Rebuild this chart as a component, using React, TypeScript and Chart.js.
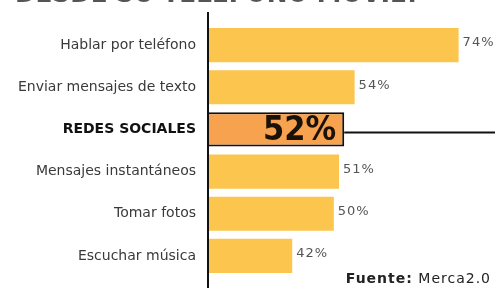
import React, { useEffect, useRef } from "react";
import { Chart, registerables } from "chart.js";
Chart.register(...registerables);

const categories = [
  "Hablar por teléfono",
  "Enviar mensajes de texto",
  "REDES SOCIALES",
  "Mensajes instantáneos",
  "Tomar fotos",
  "Escuchar música",
];
const values = [74, 54, 52, 51, 50, 42];
const highlightIndex = 2;
const titleText = "DESDE SU TELÉFONO MÓVIL?";
const sourceBold = "Fuente:";
const sourceText = " Merca2.0";

const YELLOW = "#FCC54E";
const ORANGE = "#F7A24E";
const FONT = "'DejaVu Sans', sans-serif";
const CFONT = "'DejaVu Sans Condensed', 'DejaVu Sans', sans-serif";

const overlay = {
  id: "overlay",
  afterDatasetsDraw(chart: any) {
    const ctx = chart.ctx;
    const meta = chart.getDatasetMeta(0);
    const area = chart.chartArea;
    ctx.save();
    // axis line
    ctx.strokeStyle = "#111";
    ctx.lineWidth = 2;
    ctx.beginPath();
    ctx.moveTo(area.left, 12);
    ctx.lineTo(area.left, chart.height);
    ctx.stroke();
    meta.data.forEach((bar: any, i: number) => {
      const v = values[i];
      if (i === highlightIndex) {
        ctx.strokeStyle = "#111";
        ctx.lineWidth = 2;
        ctx.beginPath();
        ctx.moveTo(bar.x, bar.y + 3);
        ctx.lineTo(chart.width, bar.y + 3);
        ctx.stroke();
        ctx.fillStyle = "#1a1208";
        ctx.font = `bold 34px ${CFONT}`;
        (ctx as any).letterSpacing = "0px";
        ctx.textAlign = "right";
        ctx.textBaseline = "middle";
        ctx.fillText(v + "%", bar.x - 8, bar.y + 2);
      } else {
        ctx.fillStyle = "#555";
        ctx.font = `13px ${FONT}`;
        (ctx as any).letterSpacing = "1px";
        ctx.textAlign = "left";
        ctx.textBaseline = "middle";
        ctx.fillText(v + "%", bar.x + 4, bar.y - 2);
      }
    });
    // partially visible title (cut off at the top edge)
    (ctx as any).letterSpacing = "0px";
    ctx.fillStyle = "#555";
    ctx.font = `bold 26px ${CFONT}`;
    ctx.textAlign = "left";
    ctx.textBaseline = "alphabetic";
    const w = ctx.measureText(titleText).width;
    ctx.save();
    ctx.translate(15, 2);
    ctx.scale(405 / w, 1);
    ctx.fillText(titleText, 0, 0);
    ctx.restore();
    // source
    (ctx as any).letterSpacing = "1px";
    ctx.fillStyle = "#222";
    ctx.font = `bold 14px ${FONT}`;
    const bw = ctx.measureText(sourceBold).width;
    ctx.font = `14px ${FONT}`;
    const nw = ctx.measureText(sourceText).width;
    const x0 = 491 - bw - nw;
    ctx.font = `bold 14px ${FONT}`;
    ctx.fillText(sourceBold, x0, 283);
    ctx.font = `14px ${FONT}`;
    ctx.fillText(sourceText, x0 + bw, 283);
    ctx.restore();
  },
};

export default function App() {
  const ref = useRef<HTMLCanvasElement>(null);
  useEffect(() => {
    const chart = new Chart(ref.current!, {
      type: "bar",
      data: {
        labels: categories,
        datasets: [
          {
            data: values,
            backgroundColor: values.map((_, i) => (i === highlightIndex ? ORANGE : YELLOW)),
            borderColor: values.map((_, i) => (i === highlightIndex ? "#111" : "rgba(0,0,0,0)")),
            borderWidth: values.map((_, i) => (i === highlightIndex ? 2 : 0)),
            borderSkipped: false,
            barPercentage: 0.81,
            categoryPercentage: 1,
          },
        ],
      },
      options: {
        indexAxis: "y",
        animation: false,
        responsive: false,
        layout: { padding: { top: 24, bottom: 11, left: 0, right: 0 } },
        plugins: { legend: { display: false }, tooltip: { enabled: false }, title: { display: false } },
        scales: {
          x: { display: false, min: 25.8, max: 81 },
          y: {
            afterFit: (s: any) => {
              s.width = 208;
              s.paddingTop = 0;
              s.paddingBottom = 0;
            },
            grid: { display: false, drawTicks: false },
            border: { display: false },
            ticks: {
              padding: 12,
              color: (c: any) => (c.index === highlightIndex ? "#111" : "#3a3a3a"),
              font: (c: any) =>
                c.index === highlightIndex
                  ? { family: FONT, size: 14, weight: "bold" }
                  : { family: FONT, size: 14 },
            },
          },
        },
      },
      plugins: [overlay],
    } as any);
    return () => chart.destroy();
  }, []);
  return (
    <div style={{ position: "absolute", left: 0, top: 0, width: 495, height: 288, background: "#fff" }}>
      <canvas ref={ref} width={495} height={288} />
    </div>
  );
}
